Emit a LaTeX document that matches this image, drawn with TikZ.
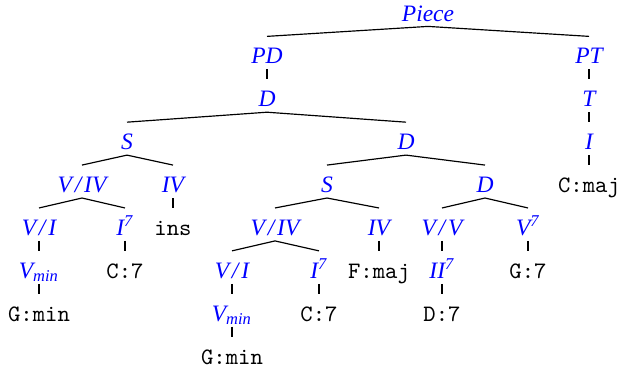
\documentclass[tikz,border=0pt]{standalone}
\usepackage{fontspec}
\setmainfont{Liberation Serif}
\usetikzlibrary{positioning}
\newcommand{\ovr}{\kern1.2pt/\kern1.2pt}

\begin{document}
\begin{tikzpicture}[
  x=0.425pt, y=-0.425pt,
  every node/.style={font=\fontsize{10}{12}\selectfont, inner sep=0pt,
    text height=11.5pt, text depth=2.1pt, anchor=base},
  cat/.style={text=blue, font=\fontsize{10}{12}\selectfont\itshape},
  chord/.style={font=\fontsize{10}{12}\selectfont\ttfamily},
  tree edge/.style={draw,line width=0.5pt}
]
  \useasboundingbox (0,0) rectangle (618,372);

  % level 0 .. 8
  \node[cat] (piece) at (428,21) {Piece};
  \node[cat] (pd)    at (267,63.9) {PD};
  \node[cat] (pt)    at (589,63.9) {PT};
  \node[cat] (d)     at (267,106.8) {D};
  \node[cat] (t)     at (589,106.8) {T};
  \node[cat] (s)     at (127,149.7) {S};
  \node[cat] (dr)    at (406,149.7) {D};
  \node[cat] (i)     at (589,149.7) {I};
  \node[cat] (vivl)  at (82,192.6) {V\ovr IV};
  \node[cat] (ivl)   at (173,192.6) {IV};
  \node[cat] (sr)    at (327,192.6) {S};
  \node[cat] (drr)   at (485,192.6) {D};
  \node[chord] (cmaj) at (589,192.6) {C:maj};
  \node[cat] (vil)   at (39,235.5) {V\ovr I};
  \node[cat] (isl)   at (125,235.5) {I\textsuperscript{7}};
  \node[chord] (ins) at (173,235.5) {ins};
  \node[cat] (vivr)  at (275,235.5) {V\ovr IV};
  \node[cat] (ivr)   at (379,235.5) {IV};
  \node[cat] (vv)    at (442,235.5) {V\ovr V};
  \node[cat] (vs)    at (528,235.5) {V\textsuperscript{7}};
  \node[cat] (vminl) at (39,278.4) {V\textsubscript{min}};
  \node[chord] (csl) at (125,278.4) {C:7};
  \node[cat] (vir)   at (232,278.4) {V\ovr I};
  \node[cat] (isr)   at (319,278.4) {I\textsuperscript{7}};
  \node[chord] (fmaj) at (379,278.4) {F:maj};
  \node[cat] (iis)   at (442,278.4) {II\textsuperscript{7}};
  \node[chord] (gs)  at (528,278.4) {G:7};
  \node[chord] (gminl) at (39,321.3) {G:min};
  \node[cat] (vminr) at (232,321.3) {V\textsubscript{min}};
  \node[chord] (csr) at (319,321.3) {C:7};
  \node[chord] (ds)  at (442,321.3) {D:7};
  \node[chord] (gminr) at (232,364.2) {G:min};

  \draw[tree edge] (pd.north)--(piece.south)--(pt.north);
  \draw[tree edge] (pd.south)--(d.north);
  \draw[tree edge] (pt.south)--(t.north);
  \draw[tree edge] (t.south)--(i.north);
  \draw[tree edge] (i.south)--(cmaj.north);
  \draw[tree edge] (s.north)--(d.south)--(dr.north);
  \draw[tree edge] (vivl.north)--(s.south)--(ivl.north);
  \draw[tree edge] (sr.north)--(dr.south)--(drr.north);
  \draw[tree edge] (vil.north)--(vivl.south)--(isl.north);
  \draw[tree edge] (ivl.south)--(ins.north);
  \draw[tree edge] (vivr.north)--(sr.south)--(ivr.north);
  \draw[tree edge] (vv.north)--(drr.south)--(vs.north);
  \draw[tree edge] (vil.south)--(vminl.north);
  \draw[tree edge] (isl.south)--(csl.north);
  \draw[tree edge] (vminl.south)--(gminl.north);
  \draw[tree edge] (vir.north)--(vivr.south)--(isr.north);
  \draw[tree edge] (ivr.south)--(fmaj.north);
  \draw[tree edge] (vv.south)--(iis.north);
  \draw[tree edge] (vs.south)--(gs.north);
  \draw[tree edge] (vir.south)--(vminr.north);
  \draw[tree edge] (isr.south)--(csr.north);
  \draw[tree edge] (iis.south)--(ds.north);
  \draw[tree edge] (vminr.south)--(gminr.north);
\end{tikzpicture}
\end{document}
